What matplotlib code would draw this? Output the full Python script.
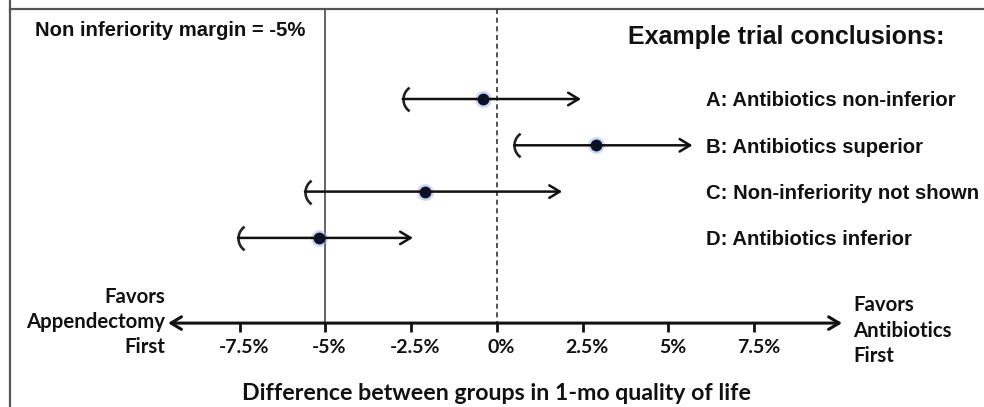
import numpy as np
import matplotlib
matplotlib.use('Agg')
import matplotlib.pyplot as plt
from matplotlib.path import Path

# Ejemplos de conclusiones de un ensayo de no inferioridad
etiquetas = ['A: Antibiotics non-inferior', 'B: Antibiotics superior',
             'C: Non-inferiority not shown', 'D: Antibiotics inferior']
ic_inf = [-2.75, 0.5, -5.6, -7.55]      # limite inferior del IC (%)
estimado = [-0.4, 2.9, -2.1, -5.2]      # diferencia estimada (%)
ic_sup = [2.45, 5.7, 1.9, -2.45]        # extremo de la flecha (%)

margen = -5
ticks = [-7.5, -5, -2.5, 0, 2.5, 5, 7.5]
tick_labels = ['-7.5%', '-5%', '-2.5%', '0%', '2.5%', '5%', '7.5%']

fig = plt.figure(figsize=(9.84, 4.07), dpi=100)
ax = fig.add_axes([0, 0, 1, 1])
ax.set_xlim(-14.49, 14.20)
ax.set_ylim(6.652, -2.138)
ax.axis('off')

arial = 'Liberation Sans'
calibri = 'Lato'

# marco
ax.plot([0.01, 0.01], [0, 1], transform=ax.transAxes, color='#555', lw=1.6, clip_on=False)
ax.plot([0.01, 1], [0.978, 0.978], transform=ax.transAxes, color='#555', lw=1.6, clip_on=False)

y_eje = 4.84
y_top = -1.94

# lineas verticales: margen y cero
ax.plot([margen, margen], [y_top, y_eje], color='#4a4a4a', lw=1.2)
ax.plot([0, 0], [y_top, y_eje], color='#333', lw=1.2, ls=(0, (3, 2.2)))

# eje horizontal con flechas
ax.annotate('', xy=(10.06, y_eje), xytext=(-9.59, y_eje),
            arrowprops=dict(arrowstyle='<->,head_length=0.75,head_width=0.45',
                            lw=2.2, color='#111', shrinkA=0, shrinkB=0))
for t in ticks:
    ax.plot([t, t], [y_eje, y_eje + 0.2], color='#111', lw=2.0, solid_capstyle='butt')
for t, lab in zip(ticks, tick_labels):
    ax.text(t + 0.12, 5.37, lab, ha='center', va='center', fontsize=14,
            fontweight='bold', family=calibri, color='#111')

# marcador en forma de parentesis
t = np.linspace(np.deg2rad(125), np.deg2rad(235), 30)
paren = Path(np.column_stack([np.cos(t) + 1, np.sin(t)]))

filas = np.arange(len(etiquetas))
for y, lo, pt, hi, lab in zip(filas, ic_inf, estimado, ic_sup, etiquetas):
    ax.annotate('', xy=(hi, y), xytext=(lo, y),
                arrowprops=dict(arrowstyle='->,head_length=0.75,head_width=0.45',
                                lw=1.8, color='#111', shrinkA=0, shrinkB=0))
    ax.plot(lo, y, marker=paren, ms=17, mfc='none', mec='#222', mew=1.9)
    ax.plot(pt, y, 'o', ms=12, color='#8fa8d6', alpha=0.45, mew=0)
    ax.plot(pt, y, 'o', ms=8.5, color='#0b1030', mew=0)
    ax.text(6.1, y + 0.04, lab, ha='left', va='center', fontsize=14.6,
            fontweight='bold', family=arial, color='#111')

ax.text(-9.68, y_eje - 0.02, 'Favors\nAppendectomy\nFirst', ha='right', va='center',
        fontsize=14.7, fontweight='bold', family=calibri, linespacing=1.32, color='#111')
ax.text(10.38, y_eje + 0.16, 'Favors\nAntibiotics\nFirst', ha='left', va='center',
        fontsize=14.7, fontweight='bold', family=calibri, linespacing=1.32, color='#111')
ax.text(0.0, 6.35, 'Difference between groups in 1-mo quality of life', ha='center',
        va='center', fontsize=16.7, fontweight='bold', family=calibri, color='#111')

fig.text(0.0356, 0.924, 'Non inferiority margin = -5%', ha='left', va='center',
         fontsize=14.6, fontweight='bold', family=arial, color='#111')
fig.text(0.638, 0.909, 'Example trial conclusions:', ha='left', va='center',
         fontsize=18, fontweight='bold', family=arial, color='#111')

fig.savefig('out.png', dpi=100)
